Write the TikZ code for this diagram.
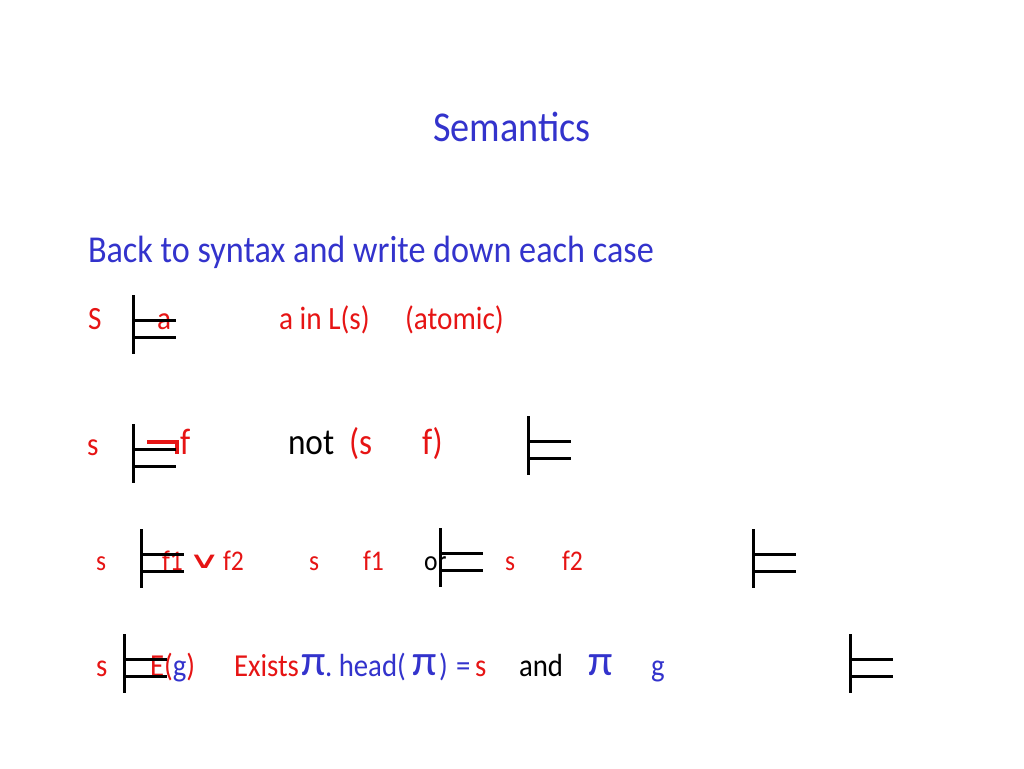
\documentclass[tikz,border=0pt]{standalone}
\usepackage{fontspec}
\setmainfont[FakeStretch=0.9]{Carlito}
\newfontfamily\symfont{DejaVu Sans}
\newfontfamily\pifont{Carlito}
\definecolor{tblue}{RGB}{51,51,204}
\definecolor{tred}{RGB}{230,20,20}
\begin{document}
\begin{tikzpicture}[x=1pt,y=-1pt,
  every node/.style={inner sep=0pt,outer sep=0pt,anchor=base west},
  rowa/.style={font=\fontsize{32.5}{34}\selectfont},
  rowb/.style={font=\fontsize{37}{39}\selectfont},
  rowc/.style={font=\fontsize{28.5}{30}\selectfont},
  rowd/.style={font=\fontsize{32}{34}\selectfont},
  bigpi/.style={font=\pifont\fontsize{44}{46}\selectfont},
  red/.style={text=tred},
  blu/.style={text=tblue},
  blk/.style={text=black},
  dturn/.pic={\draw[line width=3pt] (0,0) -- (0,59) (0,25) -- (43,25) (0,42.5) -- (43,42.5);}]
\useasboundingbox (0,0) rectangle (1024,768);
% title
\node[blu,font=\fontsize{42.5}{44}\selectfont,anchor=base] (title) at (512,141) {Semantics};
\node[blu,font=\fontsize{38}{40}\selectfont] (sub) at (88,262) {Back to syntax and write down each case};
% row 1
\node[rowa,red] (r1s) at (88,329) {S};
\node[rowa,red] (r1a) at (157,329) {a};
\node[rowa,red] (r1b) at (279,329) {a in L(s)};
\node[rowa,red] (r1c) at (405,329) {(atomic)};
\pic at (133,295) {dturn};
% row 2
\node[rowa,red] (r2s) at (87,455) {s};
\draw[tred,line width=4pt] (147,441.5) -- (177,441.5) -- (177,454);
\node[rowb,red] (r2f) at (180,454) {f};
\node[rowb,blk] (r2not) at (288,454) {not};
\node[rowb,red] (r2p) at (349,454) {(s};
\node[rowb,red] (r2q) at (422,454) {f)};
\pic at (133,424) {dturn};
\pic at (528,416) {dturn};
% row 3
\node[rowc,red] (r3s) at (96,570) {s};
\node[rowc,red] (r3f1) at (162,570) {f1};
\node[red,font=\symfont\fontsize{34}{36}\selectfont] (r3or) at (188,568.5) {\scalebox{1.3}[0.68]{∨}};
\node[rowc,red] (r3f2) at (223,570) {f2};
\node[rowc,red] (r3s2) at (309,570) {s};
\node[rowc,red] (r3f3) at (363,570) {f1};
\node[rowc,blk] (r3w) at (424,570) {or};
\node[rowc,red] (r3s3) at (505,570) {s};
\node[rowc,red] (r3f4) at (562,570) {f2};
\pic at (141,529) {dturn};
\pic at (440,528) {dturn};
\pic at (753,529) {dturn};
% row 4
\node[rowd,red] (r4s) at (96,676) {s};
\node[rowd,red] (r4e) at (150,676) {E\textcolor{tred}{(}\textcolor{tblue}{g}\textcolor{tred}{)}};
\node[rowd,red] (r4x) at (234,676) {Exists};
\node[blu,bigpi] (r4pi) at (301,675) {π};
\node[rowd,blu] (r4h) at (325,676) {.\ head(};
\node[blu,bigpi] (r4pi3) at (412,675) {π};
\node[rowd,blu] (r4h2) at (439,676) {)};
\node[rowd,blu] (r4eq) at (456,676) {=};
\node[rowd,red] (r4s2) at (475,676) {s};
\node[rowd,blk] (r4and) at (519,676) {and};
\node[blu,bigpi] (r4pi2) at (588,675) {π};
\node[rowd,blu] (r4g) at (651,676) {g};
\pic at (124,634) {dturn};
\pic at (850,634) {dturn};
\end{tikzpicture}
\end{document}
